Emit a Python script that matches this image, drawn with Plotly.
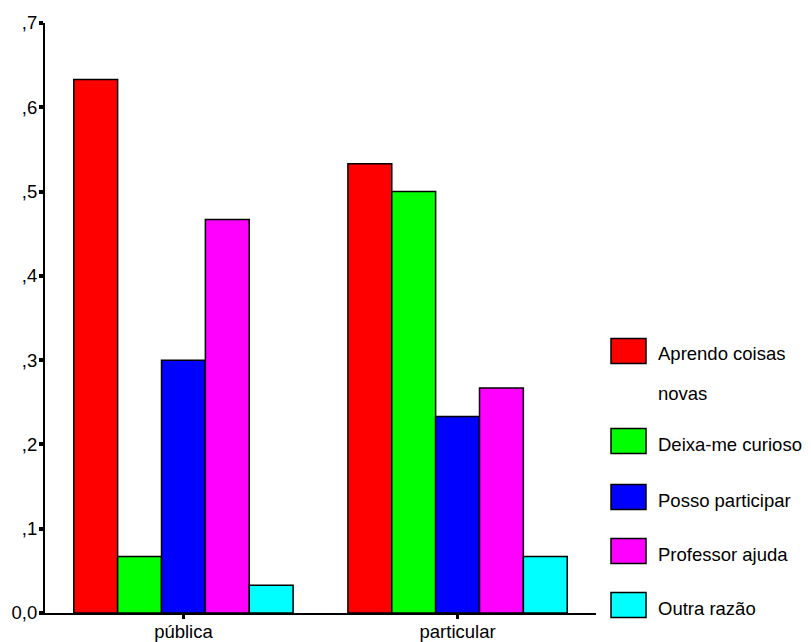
import plotly.graph_objects as go

# ---- data ----
categories = ["pública", "particular"]
series_names = ["Aprendo coisas novas", "Deixa-me curioso", "Posso participar",
                "Professor ajuda", "Outra razão"]
aprendo = [0.633, 0.533]
curioso = [0.067, 0.500]
participar = [0.300, 0.233]
professor = [0.467, 0.267]
outra = [0.033, 0.067]
series_values = [aprendo, curioso, participar, professor, outra]
colors = ["#FF0000", "#00FF00", "#0000FF", "#FF00FF", "#00FFFF"]
ytick_vals = [0.0, 0.1, 0.2, 0.3, 0.4, 0.5, 0.6, 0.7]
ytick_text = ["0,0", ",1", ",2", ",3", ",4", ",5", ",6", ",7"]
legend_lines = [["Aprendo coisas", "novas"], ["Deixa-me curioso"], ["Posso participar"],
                ["Professor ajuda"], ["Outra razão"]]

FONT = "Arial, Liberation Sans, sans-serif"
FS = 18.5
OFF = 8  # page body margin of the browser
W, H = 811 - OFF, 642 - OFF
L, T = 45 - OFF, 23 - OFF
R = W - (596 - OFF)
B = H - (613 - OFF)
pw, ph = W - L - R, H - T - B


def px(x):
    return (x - OFF - L) / pw


def py(y):
    return (H - B - (y - OFF)) / ph


fig = go.Figure()
for name, vals, col in zip(series_names, series_values, colors):
    fig.add_trace(go.Bar(
        x=categories, y=vals, name=name, showlegend=False,
        marker=dict(color=col, line=dict(color="black", width=1.5)),
    ))

# custom legend (large swatches as in the reference)
item_y = [351, 441, 497, 551, 605]
shapes = []
annotations = []
for i, (lines, col) in enumerate(zip(legend_lines, colors)):
    yc = item_y[i]
    shapes.append(dict(type="rect", xref="paper", yref="paper",
                       x0=px(611), x1=px(646), y0=py(yc + 12.5), y1=py(yc - 12.5),
                       fillcolor=col, line=dict(color="black", width=1.5)))
    for j, t in enumerate(lines):
        annotations.append(dict(xref="paper", yref="paper", x=px(656),
                                y=py(yc + 3 + j * 39), text=t, showarrow=False,
                                xanchor="left", yanchor="middle",
                                font=dict(family=FONT, size=FS, color="black")))

fig.update_layout(
    template="none",
    width=W, height=H,
    margin=dict(l=L, r=R, t=T, b=B, pad=0, autoexpand=False),
    paper_bgcolor="white", plot_bgcolor="white",
    barmode="group", bargap=0.2, bargroupgap=0,
    font=dict(family=FONT, size=FS, color="black"),
    shapes=shapes, annotations=annotations,
    showlegend=False,
)
fig.update_xaxes(
    automargin=False,
    range=[-0.505, 1.505], showgrid=False, zeroline=False,
    showline=True, linecolor="black", linewidth=2,
    ticks="outside", ticklen=4, tickwidth=3, tickcolor="black",
    ticklabelstandoff=-3,
    tickfont=dict(family=FONT, size=FS, color="black"),
)
fig.update_yaxes(
    automargin=False,
    range=[0, 0.7], showgrid=False, zeroline=False,
    showline=True, linecolor="black", linewidth=2,
    ticks="outside", ticklen=4, tickwidth=4, tickcolor="black",
    tickvals=ytick_vals, ticktext=ytick_text,
    ticklabelstandoff=-2,
    tickfont=dict(family=FONT, size=FS, color="black"),
)

fig.write_html("out.html")
